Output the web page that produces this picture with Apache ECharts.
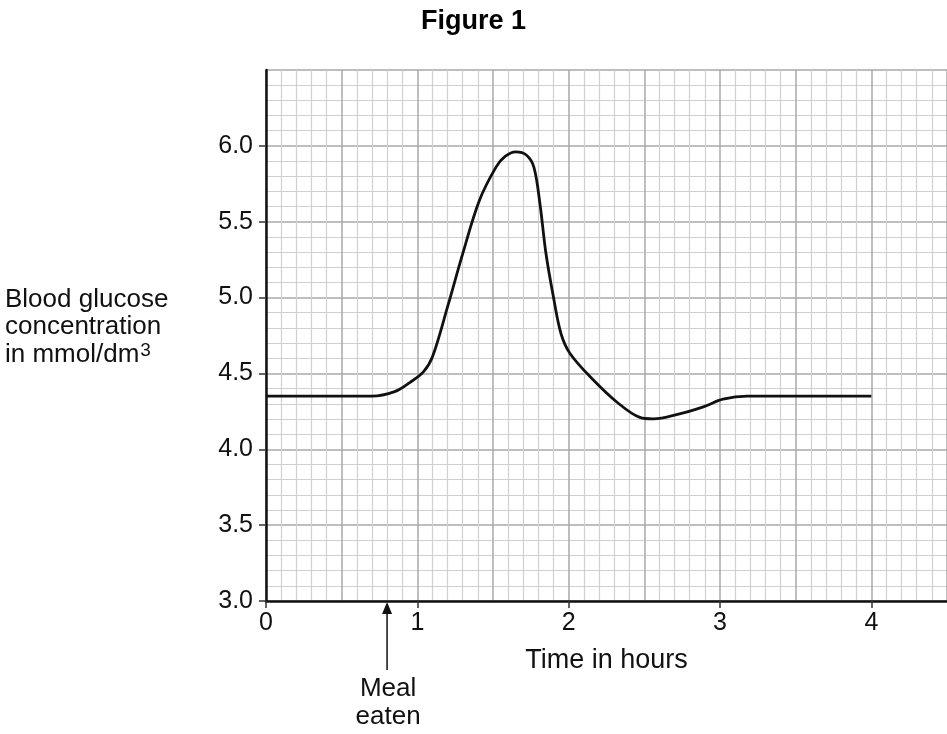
<!DOCTYPE html>
<html>
<head>
<meta charset="utf-8">
<title>Figure 1</title>
<script src="https://cdn.jsdelivr.net/npm/echarts@6/dist/echarts.min.js"></script>
<style>
  html, body { margin: 0; padding: 0; background: #fff; }
  #chart { width: 947px; height: 734px; }
</style>
</head>
<body>
<div id="chart"></div>
<script>
// time in hours and blood glucose (mmol/dm3)
var hours = [0, 0.5, 0.7, 0.85, 0.95, 1.04, 1.1, 1.2, 1.3, 1.41, 1.52, 1.58, 1.65, 1.72, 1.77,
             1.81, 1.85, 1.9, 1.95, 2.01, 2.16, 2.32, 2.47, 2.56, 2.72, 2.89, 3.02, 3.18, 3.5, 4.0];
var glucose = [4.35, 4.35, 4.35, 4.38, 4.44, 4.51, 4.61, 4.94, 5.29, 5.64, 5.86, 5.93, 5.96, 5.94, 5.86,
               5.62, 5.29, 5.0, 4.76, 4.63, 4.46, 4.31, 4.21, 4.2, 4.23, 4.28, 4.33, 4.35, 4.35, 4.35];
var xTicks = [0, 1, 2, 3, 4];
var yTicks = [3.0, 3.5, 4.0, 4.5, 5.0, 5.5, 6.0];
var mealTime = 0.8;

var font = 'Liberation Sans, Arial, sans-serif';
var pts = hours.map(function (h, i) { return [h, glucose[i]]; });

var myChart = echarts.init(document.getElementById('chart'));

// graph paper: major lines every 0.5, minor every 0.1
var paperLine = { show: true, lineStyle: { color: '#a9a9a9', width: 1.5 } };
var paperMinor = { show: true, lineStyle: { color: '#d0d0d0', width: 1.2 } };

var option = {
  animation: false,
  title: {
    text: 'Figure 1',
    left: 'center',
    top: 3,
    textStyle: { fontFamily: font, fontSize: 27, fontWeight: 'bold', color: '#000' }
  },
  grid: { left: 266, right: 0, top: 70, bottom: 133 },
  xAxis: [{
    type: 'value', min: 0, max: 4.5, interval: 0.5, position: 'bottom',
    axisLine: { show: false }, axisTick: { show: false }, axisLabel: { show: false },
    splitLine: paperLine,
    minorTick: { show: false, splitNumber: 5 },
    minorSplitLine: paperMinor
  }, {
    type: 'value', min: 0, max: 4.5, interval: 0.5, position: 'bottom',
    name: 'Time in hours', nameLocation: 'middle', nameGap: 46,
    nameTextStyle: { fontFamily: font, fontSize: 27, color: '#111' },
    axisLine: { show: true, onZero: false, lineStyle: { color: '#111', width: 2.5 } },
    axisTick: { show: true, length: 7, customValues: xTicks, lineStyle: { color: '#333', width: 1.5 } },
    axisLabel: { customValues: xTicks, margin: 10, fontFamily: font, fontSize: 25, color: '#111' },
    splitLine: { show: false }
  }],
  yAxis: [{
    type: 'value', min: 3, max: 6.5, interval: 0.5, position: 'left',
    axisLine: { show: false }, axisTick: { show: false }, axisLabel: { show: false },
    splitLine: paperLine,
    minorTick: { show: false, splitNumber: 5 },
    minorSplitLine: paperMinor
  }, {
    type: 'value', min: 3, max: 6.5, interval: 0.5, position: 'left',
    axisLine: { show: true, onZero: false, lineStyle: { color: '#111', width: 2.5 } },
    axisTick: { show: true, length: 7, customValues: yTicks, lineStyle: { color: '#333', width: 1.5 } },
    axisLabel: {
      customValues: yTicks, margin: 13,
      fontFamily: font, fontSize: 25, color: '#111',
      formatter: function (v) { return v.toFixed(1); }
    },
    splitLine: { show: false }
  }],
  series: [{
    type: 'line',
    xAxisIndex: 0, yAxisIndex: 0,
    data: pts,
    smooth: 0.35,
    showSymbol: false,
    lineStyle: { color: '#111', width: 2.8 },
    z: 5
  }]
};

myChart.setOption(option);

// annotations placed through the axes
var mealPx = myChart.convertToPixel({ xAxisIndex: 0, yAxisIndex: 0 }, [mealTime, 3]);
var mealX = mealPx[0], axisY = mealPx[1];

myChart.setOption({
  graphic: [
    {
      type: 'line',
      shape: { x1: mealX, y1: axisY + 69, x2: mealX, y2: axisY + 8 },
      style: { stroke: '#111', lineWidth: 1.5 }
    },
    {
      type: 'polygon',
      shape: { points: [[mealX, axisY + 1], [mealX - 5, axisY + 13], [mealX + 5, axisY + 13]] },
      style: { fill: '#111' }
    },
    {
      type: 'text',
      x: mealX + 1, y: axisY + 74,
      style: {
        text: 'Meal\neaten', align: 'center', verticalAlign: 'top',
        font: '26px ' + font, fill: '#111', lineHeight: 28
      }
    },
    {
      type: 'text',
      x: 5, y: 286,
      style: {
        text: 'Blood glucose\nconcentration\nin mmol/dm{sup|3}',
        font: '26px ' + font, fill: '#111', lineHeight: 27.5,
        rich: {
          sup: { fontSize: 19, fontFamily: font, verticalAlign: 'top', padding: [0, 0, 10, 1], fill: '#111' }
        }
      }
    }
  ]
});
</script>
</body>
</html>
